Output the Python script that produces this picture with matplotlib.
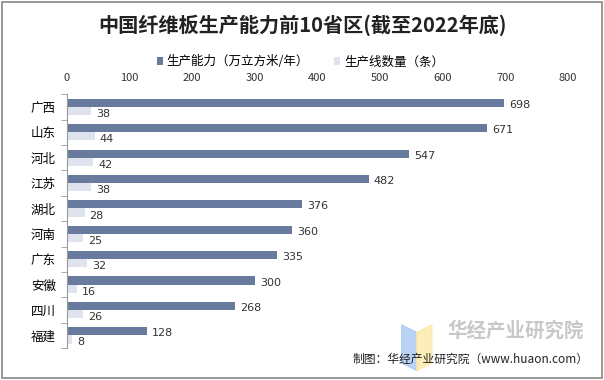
import matplotlib.pyplot as plt
import matplotlib.patches as mpatches
import numpy as np

plt.rcParams['font.family'] = ['Noto Sans CJK SC', 'DejaVu Sans']

provinces = ['广西', '山东', '河北', '江苏', '湖北', '河南', '广东', '安徽', '四川', '福建']
capacity = [698, 671, 547, 482, 376, 360, 335, 300, 268, 128]
lines = [38, 44, 42, 38, 28, 25, 32, 16, 26, 8]

dark = '#687B9F'
light = '#DFE3EE'

fig = plt.figure(figsize=(6.04, 3.8), dpi=100)
ax = fig.add_axes([0.111, 0.084, 0.829, 0.668])

y = np.arange(len(provinces))
h = 0.32
ax.barh(y - h / 2, capacity, height=h, color=dark, label='生产能力（万立方米/年）')
ax.barh(y + h / 2, lines, height=h, color=light, label='生产线数量（条）')

for i in range(len(provinces)):
    ax.text(capacity[i] + 8, y[i] - h / 2 + 0.08, str(capacity[i]), va='center', ha='left',
            fontsize=8, color='#333333', family='DejaVu Sans')
    ax.text(lines[i] + 8, y[i] + h / 2 + 0.12, str(lines[i]), va='center', ha='left',
            fontsize=8, color='#333333', family='DejaVu Sans')

ax.set_xlim(0, 800)
ax.set_ylim(len(provinces) - 0.5, -0.5)
ax.xaxis.tick_top()
ax.set_xticks(range(0, 801, 100))
ax.tick_params(axis='x', length=0, labelsize=8, pad=8, labelcolor='#333333')
ax.set_yticks(y)
ax.set_yticklabels(provinces, fontsize=9)
ax.set_yticks(np.arange(-0.5, len(provinces)), minor=True)
ax.tick_params(axis='y', which='major', length=0, pad=8)
ax.tick_params(axis='y', which='minor', length=4, color='#999999')
for s in ['top', 'right', 'bottom']:
    ax.spines[s].set_visible(False)
ax.spines['left'].set_color('#999999')

fig.text(0.5, 0.935, '中国纤维板生产能力前10省区(截至2022年底)', ha='center', va='center',
         fontsize=14.5, fontweight='bold', color='#222222')
fig.legend(*ax.get_legend_handles_labels(), loc='center', bbox_to_anchor=(0.497, 0.837), ncol=2,
           frameon=False, fontsize=9, handlelength=0.5, handleheight=0.5, handletextpad=0.3,
           columnspacing=2.0)

# watermark logo
fig.patches.append(mpatches.Polygon([[0.665, 0.145], [0.69, 0.125], [0.69, 0.025], [0.665, 0.045]],
                                    closed=True, transform=fig.transFigure, color='#A9C9F2', alpha=0.8))
fig.patches.append(mpatches.Polygon([[0.69, 0.125], [0.715, 0.145], [0.715, 0.045], [0.69, 0.025]],
                                    closed=True, transform=fig.transFigure, color='#FCE9A8', alpha=0.8))
fig.text(0.853, 0.13, '华经产业研究院', ha='center', va='center', fontsize=14,
         fontweight='bold', color='#C8C8C8')
fig.text(0.975, 0.055, '制图：华经产业研究院（www.huaon.com）', ha='right', va='center',
         fontsize=8.5, color='#222222')

fig.patches.append(mpatches.Rectangle((0.003, 0.004), 0.994, 0.992, transform=fig.transFigure,
                                      fill=False, edgecolor='#888888', linewidth=1.2))

fig.savefig('out.png', dpi=100)
